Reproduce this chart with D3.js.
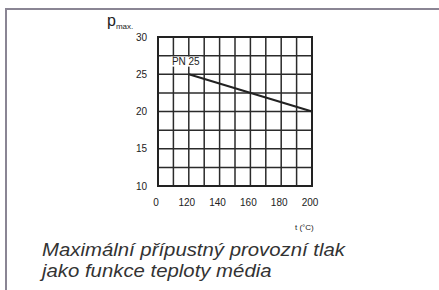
<!DOCTYPE html>
<html>
<head>
<meta charset="utf-8">
<script src="https://cdn.jsdelivr.net/npm/d3@7"></script>
<style>
  body { margin: 0; background: #fff; }
  svg { display: block; }
  .grid line { stroke: #2b2b2b; stroke-width: 1.5; }
  .tick-label { font-family: "Liberation Sans", Arial, sans-serif; font-size: 10px; fill: #222; }
</style>
</head>
<body>
<div id="container"></div>
<script>
// pressure vs temperature chart (PN 25)
var tempGrid = [100, 110, 120, 130, 140, 150, 160, 170, 180, 190, 200];
var tempTicks = [100, 120, 140, 160, 180, 200];
var tempLabels = ["0", "120", "140", "160", "180", "200"];
var pressureGrid = [10, 12.5, 15, 17.5, 20, 22.5, 25, 27.5, 30];
var pressureTicks = [10, 15, 20, 25, 30];
var pnTemps = [120, 200];
var pnPressures = [25, 20];
var seriesName = "PN 25";

(function(){
    var width = 439, height = 290;

    var svg = d3.select("#container").append("svg")
        .attr("width", width)
        .attr("height", height);

    //frame (top + left, rest cropped in the scan)
    svg.append("line")
        .attr("x1", 5).attr("y1", 9).attr("x2", width).attr("y2", 9)
        .style("stroke", "#8a8594").style("stroke-width", 2);
    svg.append("line")
        .attr("x1", 6).attr("y1", 8).attr("x2", 6).attr("y2", height)
        .style("stroke", "#8a8594").style("stroke-width", 2);

    var x = d3.scaleLinear().domain([100, 200]).range([158, 312]);
    var y = d3.scaleLinear().domain([10, 30]).range([186, 37]);

    var grid = svg.append("g").attr("class", "grid");
    grid.selectAll(".vline")
        .data(tempGrid)
        .enter().append("line")
        .attr("x1", function(d){ return x(d); })
        .attr("x2", function(d){ return x(d); })
        .attr("y1", y(10)).attr("y2", y(30));
    grid.selectAll(".hline")
        .data(pressureGrid)
        .enter().append("line")
        .attr("y1", function(d){ return y(d); })
        .attr("y2", function(d){ return y(d); })
        .attr("x1", x(100)).attr("x2", x(200));

    //outer border of the grid a bit heavier
    svg.append("rect")
        .attr("x", x(100)).attr("y", y(30))
        .attr("width", x(200) - x(100))
        .attr("height", y(10) - y(30))
        .style("fill", "none")
        .style("stroke", "#222")
        .style("stroke-width", 2);

    //y tick labels
    svg.selectAll(".ylab")
        .data(pressureTicks)
        .enter().append("text")
        .attr("class", "tick-label")
        .attr("x", 147)
        .attr("y", function(d){ return y(d); })
        .attr("dy", "0.35em")
        .attr("text-anchor", "end")
        .text(function(d){ return d; });

    //x tick labels
    svg.selectAll(".xlab")
        .data(tempTicks)
        .enter().append("text")
        .attr("class", "tick-label")
        .attr("x", function(d){ return x(d) - 2; })
        .attr("y", 202)
        .attr("dy", "0.35em")
        .attr("text-anchor", "middle")
        .text(function(d, i){ return tempLabels[i]; });

    //series label with white backing
    var labX = x(120) - 3, labY = y(27.5) + 9;
    svg.append("rect")
        .attr("x", labX - 15).attr("y", labY - 8)
        .attr("width", 31).attr("height", 10)
        .style("fill", "#fff");
    svg.append("text")
        .attr("class", "tick-label")
        .attr("x", labX).attr("y", labY)
        .attr("text-anchor", "middle")
        .text(seriesName);

    //pressure line
    var line = d3.line()
        .x(function(d, i){ return x(pnTemps[i]); })
        .y(function(d){ return y(d); });
    svg.append("path")
        .datum(pnPressures)
        .attr("d", line)
        .style("fill", "none")
        .style("stroke", "#222")
        .style("stroke-width", 2);

    //axis titles
    var yTitle = svg.append("text")
        .attr("x", 107).attr("y", 25.5)
        .style("font-family", "Liberation Sans, Arial, sans-serif")
        .style("fill", "#222");
    yTitle.append("tspan").style("font-size", "16px").text("p");
    yTitle.append("tspan").style("font-size", "8px").attr("dy", 3.5).text("max.");

    svg.append("text")
        .attr("x", 295).attr("y", 229.5)
        .style("font-family", "Liberation Sans, Arial, sans-serif")
        .style("font-size", "8px")
        .style("fill", "#222")
        .text("t (°C)");

    //caption
    var caption = ["Maximální přípustný provozní tlak", "jako funkce teploty média"];
    svg.selectAll(".caption")
        .data(caption)
        .enter().append("text")
        .attr("class", "caption")
        .attr("transform", function(d, i){
            return "translate(42," + (255.5 + i * 21.5) + ") scale(1.1,1)";
        })
        .style("font-family", "Liberation Sans, Arial, sans-serif")
        .style("font-style", "italic")
        .style("font-size", "18.5px")
        .style("fill", "#333")
        .text(function(d){ return d; });
})();
</script>
</body>
</html>
